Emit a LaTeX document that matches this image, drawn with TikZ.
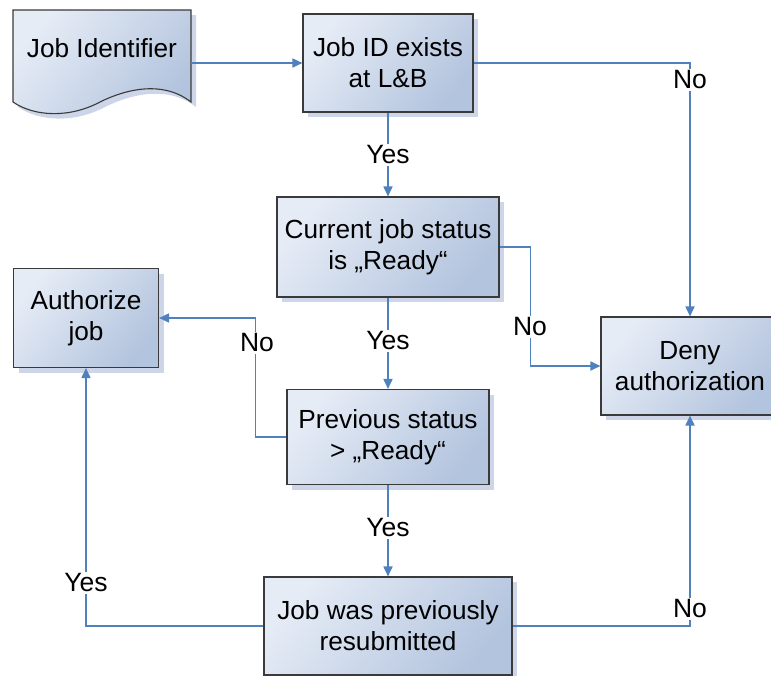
\documentclass[tikz,border=0pt]{standalone}
\usepackage{fontspec}
\setmainfont{Liberation Sans}
\usetikzlibrary{arrows.meta,shadows}

\definecolor{flow}{HTML}{4F81BD}
\definecolor{boxlight}{HTML}{E6ECF6}
\definecolor{boxdark}{HTML}{B3C4DE}
\definecolor{boxline}{HTML}{3A3A3A}
\definecolor{shadowblue}{HTML}{CDD6E8}

\begin{document}
\begin{tikzpicture}[x=1pt,y=-1pt,
  boxfill/.style={draw=boxline, line width=1.1pt,
    top color=boxlight, bottom color=boxdark, shading angle=50,
    drop shadow={shadow xshift=5pt, shadow yshift=-5pt, fill=shadowblue, opacity=1}},
  box/.style={boxfill, align=center, inner sep=0pt,
    font=\fontsize{26.2}{31}\selectfont},
  flowline/.style={draw=flow, line width=1.7pt},
  arr/.style={flowline, -{Triangle[length=10pt,width=9pt]}},
  lbl/.style={fill=white, inner sep=2pt, font=\fontsize{26.5}{30}\selectfont}]

\useasboundingbox (0,0) rectangle (771,675);

% document symbol for the job identifier
\path[boxfill] (13,10) -- (191,10) -- (191,102)
  .. controls (160,78) and (120,92) .. (100,102)
  .. controls (70,118) and (35,117) .. (13,102) -- cycle;
\node[font=\fontsize{26.2}{31}\selectfont, minimum width=178pt,
  minimum height=76pt, inner sep=0pt] (jid) at (102,48) {Job Identifier};

% process boxes
\node[box, minimum width=170pt, minimum height=98pt] (idb) at (388,63)
  {Job ID exists\\at L\&B};
\node[box, minimum width=222pt, minimum height=100pt] (cur) at (388,247)
  {Current job status\\is „Ready“};
\node[box, minimum width=145pt, minimum height=99pt] (auth) at (86,318)
  {Authorize\\job};
\node[box, minimum width=178pt, minimum height=98pt] (deny) at (690,366)
  {Deny\\authorization};
\node[box, minimum width=202pt, minimum height=95pt] (prev) at (388,437)
  {Previous status\\> „Ready“};
\node[box, minimum width=248pt, minimum height=98pt] (jwp) at (388,626)
  {Job was previously\\resubmitted};

% connectors
\draw[arr] (jid.east |- idb.west) -- (idb.west);
\draw[arr] (idb.east) -| (deny.north);
\draw[arr] (idb.south) -- (cur.north);
\draw[arr] (cur.east) -- ++(31,0) |- (deny.west);
\draw[arr] (cur.south) -- (prev.north);
\draw[arr] (prev.west) -- ++(-31,0) |- (auth.east);
\draw[arr] (prev.south) -- (jwp.north);
\draw[arr] (jwp.west) -| (auth.south);
\draw[arr] (jwp.east) -| (deny.south);

% branch labels
\node[lbl] (l1) at (690,80) {No};
\node[lbl] (l2) at (388,155) {Yes};
\node[lbl] (l3) at (530,327) {No};
\node[lbl] (l4) at (388,341) {Yes};
\node[lbl] (l5) at (257,343) {No};
\node[lbl] (l6) at (388,528) {Yes};
\node[lbl] (l7) at (86,583) {Yes};
\node[lbl] (l8) at (690,609) {No};
\end{tikzpicture}
\end{document}
